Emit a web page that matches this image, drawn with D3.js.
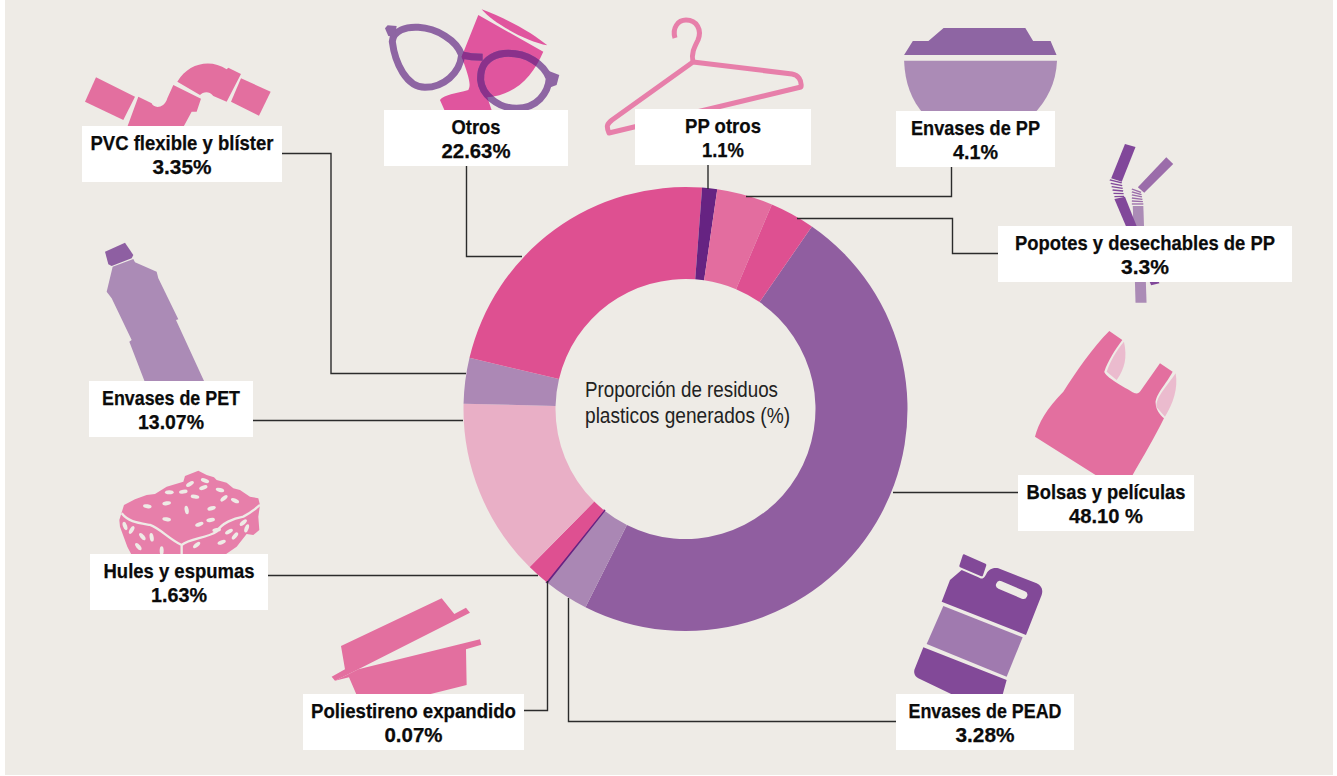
<!DOCTYPE html>
<html lang="es">
<head>
<meta charset="utf-8">
<title>Proporción de residuos plásticos</title>
<script src="https://cdn.jsdelivr.net/npm/d3@7"></script>
<style>
  html, body { margin: 0; padding: 0; background: #fff; overflow: hidden; }
  svg { display: block; }
  .nombre { font-family: "Liberation Sans", sans-serif; font-weight: 700; font-size: 20.5px; fill: #0b0b0b; stroke: #0b0b0b; stroke-width: 0.25; text-anchor: middle; }
  .centro { font-family: "Liberation Sans", sans-serif; font-size: 22px; fill: #222; }
</style>
</head>
<body>
<svg id="grafica" width="1337" height="776"></svg>
<script>
// datos, en el orden de la dona a partir de Bolsas y películas
const categorias = ["Bolsas y películas", "Envases de PEAD", "Poliestireno expandido", "Hules y espumas", "Envases de PET",
  "PVC flexible y blíster", "Otros", "PP otros", "Envases de PP", "Popotes y desechables de PP"];
const valores = [48.10, 3.28, 0.07, 1.63, 13.07, 3.35, 22.63, 1.1, 4.1, 3.3];
const etiquetas = ["48.10 %", "3.28%", "0.07%", "1.63%", "13.07%", "3.35%", "22.63%", "1.1%", "4.1%", "3.3%"];
const colores = ["#905EA0", "#AA87B4", "#662382", "#DE5091", "#E9AFC6", "#AC88B5", "#DE5091", "#662382", "#E36D9F", "#DE5091"];

const fondo = "#EEEBE6";
const rosa = "#E36F9F", rosaClaro = "#E77FAA", lila = "#AB8BB6", morado = "#8E65A3", moradoOsc = "#824998";

// caja de cada etiqueta [x0, y0, x1, y1] y línea guía, mismo orden que categorias
const cajas = [
  [1018, 475, 1194, 531], [896, 694, 1074, 750], [303, 694, 524, 750], [90, 554, 268, 610], [89, 381, 253, 437],
  [82, 126, 282, 182], [384, 110, 568, 166], [635, 109, 811, 165], [896, 111, 1055, 167], [998, 226, 1292, 282]
];
// la letra del original es condensada: se ajusta cada línea a su ancho
const anchoNombre = [159, 153, 205, 151, 138, 183, 49, 76, 129, 260];
const anchoEtiqueta = [74, 59, 58, 56, 66, 59, 69, 42, 45, 48];
const guias = [
  [[1018, 492.5], [893, 492.5]],
  [[896, 721.5], [568.5, 721.5], [568.5, 598]],
  [[524, 710.5], [547.5, 710.5], [547.5, 581]],
  [[268, 575.5], [538, 575.5]],
  [[253, 420.5], [463, 420.5]],
  [[282, 153.5], [331, 153.5], [331, 373.5], [466, 373.5]],
  [[466.5, 166], [466.5, 256.5], [522, 256.5]],
  [[708, 165], [708, 189]],
  [[951.5, 167], [951.5, 196.5], [746, 196.5]],
  [[998, 253.5], [952.5, 253.5], [952.5, 218.5], [797, 218.5]]
];

const svg = d3.select("#grafica");
svg.append("rect").attr("x", 5).attr("y", 0).attr("width", 1328).attr("height", 775).attr("fill", fondo);

const linea = d3.line();
const poli = (g, pts, color) => g.append("path").attr("d", linea(pts) + "Z").attr("fill", color);

// ---- iconos, dibujados a escala de los recortes ----
function pvc(){
  const g = svg.append("g").attr("transform", "translate(60,0) scale(0.3333)").attr("fill", rosa);
  poli(g, [[108,232],[225,290],[190,360],[75,305]], rosa);
  g.append("path").attr("d", "M235,290L275,310C280,325 312,328 322,295L340,255L423,296L410,335L395,335L360,400L195,400Z");
  g.append("path").attr("d", "M352,245C385,190 450,175 500,208L505,203L543,222L500,305L460,288C445,270 428,278 420,285Z");
  poli(g, [[543,235],[632,275],[597,347],[513,305]], rosa);
}

function otros(){
  const g = svg.append("g").attr("transform", "translate(60,0) scale(0.3333)");
  const copa = "M1255,45L1450,155C1420,225 1370,285 1282,292L1300,345L1160,345L1140,300C1150,285 1190,280 1225,270C1235,255 1225,225 1205,170Z";
  g.append("path").attr("d", "M1265,28C1340,55 1420,100 1462,136C1400,125 1300,70 1265,28Z").attr("fill", "#E0559E");
  g.append("path").attr("d", copa).attr("fill", "#E0559E");
  svg.append("clipPath").attr("id", "copa").append("path").attr("d", copa);
  const lentes = (sel, color) => {
    sel.append("path").attr("d", "M997,125C1000,90 1040,80 1075,82C1130,85 1190,120 1205,165C1200,220 1150,262 1095,262C1040,262 1005,190 997,125Z");
    sel.append("path").attr("d", "M1265,210C1275,175 1310,160 1345,160C1400,160 1450,190 1468,235C1465,280 1430,325 1370,325C1310,325 1265,280 1262,240C1262,228 1262,220 1265,210Z");
    sel.append("path").attr("d", "M1205,165C1225,170 1250,172 1268,172");
    sel.append("path").attr("d", "M975,85L983,76L1010,78L1005,112L985,108Z").attr("fill", color).attr("stroke", "none");
    sel.append("path").attr("d", "M1498,225L1465,212L1472,262L1490,255Z").attr("fill", color).attr("stroke", "none");
  };
  const a = g.append("g").attr("fill", "none").attr("stroke", morado).attr("stroke-width", 21);
  lentes(a, morado);
  const b = g.append("g").attr("fill", "none").attr("stroke", "#8A318B").attr("stroke-width", 21).attr("clip-path", "url(#copa)");
  lentes(b, "#8A318B");
}

function gancho(){
  const g = svg.append("g").attr("fill", "none").attr("stroke", rosaClaro).attr("stroke-width", 5).attr("stroke-linejoin", "round");
  g.append("path").attr("d", "M675,38C672,28 678,20 686,20C697,20 702,30 698,40C694,48 691,54 693,62");
  g.append("path").attr("d", "M693,62L792,74C798,75 802,80 801,87L609,133C606,126 607,124 612,120Z");
}

function tazon(){
  const g = svg.append("g").attr("transform", "translate(590,0) scale(0.4592,0.3333)");
  poli(g, [[770,84],[948,84],[965,123],[1003,123],[1016,165],[684,165],[703,123],[737,123]], morado);
  g.append("path").attr("d", "M684,182L1017,182C1015,250 995,300 965,345L728,345C700,300 686,250 684,182Z").attr("fill", lila);
}

function popotes(){
  const g = svg.append("g").attr("transform", "translate(590,0) scale(0.4592,0.3333)");
  const a = "#81479A", b = "#9B6CAA";
  poli(g, [[1182,618],[1205,618],[1212,908],[1188,908]], lila);
  poli(g, [[1142,597],[1165,590],[1240,850],[1222,856]], a);
  poli(g, [[1165,432],[1188,441],[1158,545],[1135,535]], a);
  poli(g, [[1255,472],[1270,492],[1207,578],[1193,562]], b);
  // fuelles
  const fuelle1 = g.append("g").attr("stroke", a).attr("stroke-width", 4);
  d3.range(0, 6).forEach(i => fuelle1.append("line").attr("x1", 1132 + i * 2).attr("y1", 540 + i * 10).attr("x2", 1158 + i * 1).attr("y2", 549 + i * 8));
  const fuelle2 = g.append("g").attr("stroke", b).attr("stroke-width", 4);
  d3.range(0, 6).forEach(i => fuelle2.append("line").attr("x1", 1180).attr("y1", 612 - i * 9).attr("x2", 1205 - i * 1).attr("y2", 612 - i * 7));
}

function botella(){
  const g = svg.append("g").attr("transform", "translate(70,230) scale(0.3333)");
  poli(g, [[105,65],[165,38],[190,75],[185,85],[125,108],[115,103]], "#8E5FA2");
  poli(g, [[128,110],[190,87],[195,97],[260,125],[265,145],[325,268],[318,270],[410,470],[230,470],[178,335],[185,330],[125,205],[110,185]], lila);
}

function esponja(){
  const g = svg.append("g").attr("transform", "translate(70,230) scale(0.3333)");
  poli(g, [[385,722],[410,735],[432,742],[440,750],[470,758],[490,775],[510,780],[540,800],[565,805],[570,825],[565,860],[568,900],[550,915],[530,912],[500,950],[450,985],[190,985],[172,950],[150,890],[148,870],[162,825],[195,808],[230,795],[255,792],[290,770],[340,755],[345,738]], rosaClaro);
  g.append("path").attr("d", "M155,850C175,875 200,878 240,885C270,895 300,930 335,945C360,925 410,925 440,905C455,880 490,865 520,860C540,850 555,838 570,825M335,945L335,985").attr("fill", "none").attr("stroke", fondo).attr("stroke-width", 7);
  const huecos = [[232,829,10],[290,820,-10],[340,785,-10],[375,800,10],[450,780,15],[495,812,25],[462,805,-40],[360,762,-30],[405,752,20],[298,787,0],[400,773,-20],
    [350,840,80],[425,835,-15],[290,868,10],[388,883,-20],[422,870,-10],[165,888,70],[185,900,-60],[217,920,50],[245,922,80],[205,950,50],[275,962,90],[380,945,-40],[455,937,-20],[495,918,-50],[530,895,-70],[520,878,-40],[477,905,-30],[440,900,-10]];
  g.selectAll("ellipse").data(huecos).join("ellipse")
    .attr("rx", 13).attr("ry", 6).attr("fill", fondo)
    .attr("transform", d => `translate(${d[0]},${d[1]}) rotate(${d[2]})`);
}

function charola(){
  const g = svg.append("g").attr("transform", "translate(300,560) scale(0.3333)");
  poli(g, [[123,258],[425,115],[463,162],[498,143],[510,158],[175,328],[105,362],[95,350],[135,328]], rosa);
  poli(g, [[175,328],[540,238],[544,254],[498,268],[500,375],[380,405],[170,405],[147,352],[105,362]], rosa);
}

function bolsa(){
  const g = svg.append("g").attr("transform", "translate(890,320) scale(0.3333)");
  g.append("path").attr("d", "M702,65C712,110 705,145 680,180L650,155C660,125 680,90 702,65Z").attr("fill", "#EBBBCE");
  g.append("path").attr("d", "M857,160C865,205 850,250 825,290L800,262C795,235 830,200 857,160Z").attr("fill", "#EBBBCE");
  g.append("path").attr("d", "M658,33L697,60C675,90 655,120 643,155C645,170 700,200 735,220C745,222 750,215 752,212L810,130L848,155C830,190 795,225 797,250C798,270 810,285 822,295C795,350 760,410 725,470L625,470L435,350C445,310 470,265 520,215C555,160 610,80 658,33Z").attr("fill", "#E36F9F");
}

function garrafa(){
  const g = svg.append("g").attr("transform", "translate(890,320) scale(0.3333)");
  g.append("path").attr("d", "M222,707L285,735L275,765L212,738Z").attr("fill", moradoOsc).attr("stroke", moradoOsc).attr("stroke-width", 8).attr("stroke-linejoin", "round");
  g.append("path").attr("d", "M155,845L180,780L215,750L265,772C280,782 285,770 290,760C297,745 315,742 325,745L440,790C455,797 460,810 455,825L408,945Z").attr("fill", moradoOsc);
  g.append("line").attr("x1", 330).attr("y1", 795).attr("x2", 400).attr("y2", 825).attr("stroke", fondo).attr("stroke-width", 24).attr("stroke-linecap", "round");
  poli(g, [[160,858],[398,952],[350,1070],[110,972]], "#A07AAF");
  g.append("path").attr("d", "M100,982L350,1080L335,1135L210,1135L85,1075C72,1068 70,1055 75,1045Z").attr("fill", moradoOsc);
}

pvc(); otros(); gancho(); tazon(); popotes(); botella(); esponja(); charola(); bolsa(); garrafa();

// ---- dona ----
const cx = 685.5, cy = 409, rExt = 222, rInt = 130;
const inicio = 34.7 * Math.PI / 180;
const pie = d3.pie().sort(null).value(d => d).startAngle(inicio).endAngle(inicio + 2 * Math.PI);
const arco = d3.arc().innerRadius(rInt).outerRadius(rExt);

svg.append("g").attr("transform", `translate(${cx},${cy})`)
  .selectAll("path").data(pie(valores)).join("path")
  .attr("d", arco)
  .attr("fill", (d, i) => colores[i])
  .attr("stroke", (d, i) => valores[i] < 0.1 ? colores[i] : "none") // la rebanada de 0.07 casi no tiene ancho
  .attr("stroke-width", 1.5);

// ---- líneas guía y etiquetas ----
svg.append("g").attr("fill", "none").attr("stroke", "#2b2b2b").attr("stroke-width", 1.4)
  .selectAll("path").data(guias).join("path").attr("d", d => linea(d));

const cajaG = svg.selectAll("g.caja").data(categorias).join("g").attr("class", "caja");
cajaG.append("rect")
  .attr("x", (d, i) => cajas[i][0]).attr("y", (d, i) => cajas[i][1])
  .attr("width", (d, i) => cajas[i][2] - cajas[i][0]).attr("height", (d, i) => cajas[i][3] - cajas[i][1])
  .attr("fill", "#fff");
cajaG.append("text").attr("class", "nombre")
  .attr("x", (d, i) => (cajas[i][0] + cajas[i][2]) / 2).attr("y", (d, i) => cajas[i][1] + 24)
  .attr("textLength", (d, i) => anchoNombre[i]).attr("lengthAdjust", "spacingAndGlyphs")
  .text(d => d);
cajaG.append("text").attr("class", "nombre")
  .attr("x", (d, i) => (cajas[i][0] + cajas[i][2]) / 2).attr("y", (d, i) => cajas[i][1] + 48)
  .attr("textLength", (d, i) => anchoEtiqueta[i]).attr("lengthAdjust", "spacingAndGlyphs")
  .text((d, i) => etiquetas[i]);

svg.append("text").attr("class", "centro").attr("x", 585).attr("y", 397)
  .attr("textLength", 193).attr("lengthAdjust", "spacingAndGlyphs").text("Proporción de residuos");
svg.append("text").attr("class", "centro").attr("x", 585).attr("y", 423)
  .attr("textLength", 205).attr("lengthAdjust", "spacingAndGlyphs").text("plasticos generados (%)");
</script>
</body>
</html>
